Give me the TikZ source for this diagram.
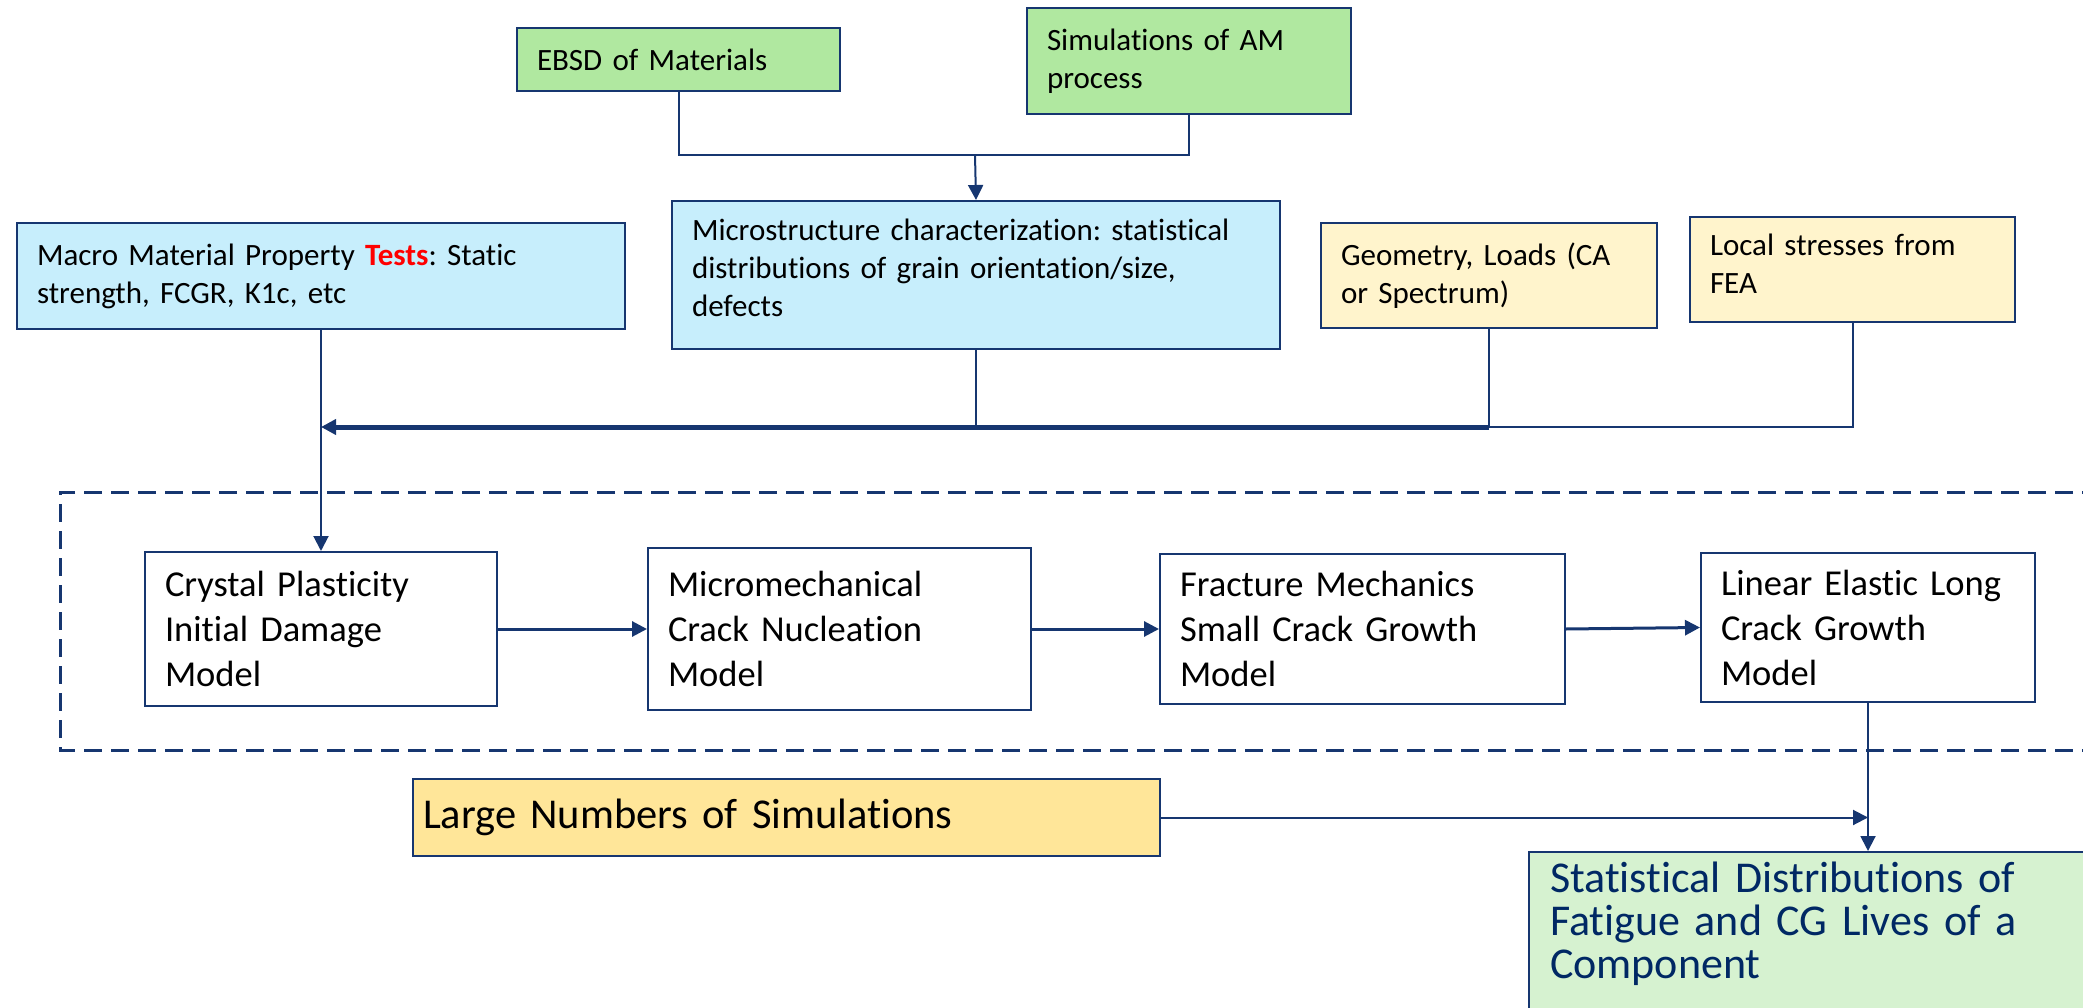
\documentclass[tikz,border=0pt]{standalone}
\usepackage{fontspec}
\setmainfont{Carlito}[Ligatures=NoCommon]
\usetikzlibrary{arrows.meta}
\definecolor{lineblue}{RGB}{22,54,112}
\definecolor{boxgreen}{RGB}{176,232,160}
\definecolor{boxblue}{RGB}{199,238,252}
\definecolor{boxcream}{RGB}{255,244,204}
\definecolor{boxgold}{RGB}{255,230,153}
\definecolor{boxmint}{RGB}{214,242,208}
\definecolor{statblue}{RGB}{0,40,100}
\definecolor{testred}{RGB}{255,0,0}
\frenchspacing

\begin{document}
\begin{tikzpicture}[x=1pt,y=-1pt,
  box/.style={draw=lineblue,line width=2pt,anchor=north west,inner xsep=20pt,inner ysep=0pt,align=left},
  upper/.style={box,font=\fontsize{31}{38}\selectfont},
  model/.style={box,fill=white,font=\fontsize{36.5}{45}\selectfont},
  conn/.style={draw=lineblue,line width=2pt},
  mid/.style={draw=lineblue,line width=3pt},
  bus/.style={draw=lineblue,line width=5pt},
  tip/.style={-{Triangle[length=15pt,width=15pt]}},
  dashframe/.style={draw=lineblue,line width=3pt,dash pattern=on 18pt off 9pt}]
\useasboundingbox (0,0) rectangle (2083,1008);

% inputs on top
\node[upper,fill=boxgreen,minimum width=323,text width=283,minimum height=63] (ebsd) at (516,27) {EBSD of Materials};
\node[upper,fill=boxgreen,minimum width=324,text width=284,minimum height=106] (simam) at (1026,7) {Simulations of AM\\process};
\node[upper,fill=boxblue,minimum width=608,text width=568,minimum height=106] (macro) at (16,222) {Macro Material Property \textcolor{testred}{\textbf{Tests}}: Static\\strength, FCGR, K1c, etc};
\node[upper,fill=boxblue,minimum width=608,text width=568,minimum height=148] (micro) at (671,200) {Microstructure characterization: statistical\\distributions of grain orientation/size,\\defects\rule[-14pt]{0pt}{0pt}};
\node[upper,fill=boxcream,minimum width=336,text width=296,minimum height=105] (geom) at (1320,222) {Geometry, Loads (CA\\or Spectrum)};
\node[upper,fill=boxcream,minimum width=325,text width=285,minimum height=105] (local) at (1689,216) {Local stresses from\\FEA\rule[-11pt]{0pt}{0pt}};

\coordinate (join) at (975,155);
\coordinate (busline) at (0,427);

\draw[conn] (ebsd.south) |- (join);
\draw[conn] (simam.south) |- (join);
\draw[conn,tip] (join) -- (micro.north);

% collecting line
\draw[conn] (local.south) |- (geom.south |- busline);
\draw[conn] (geom.south) -- (geom.south |- busline);
\draw[conn] (micro.south) -- (micro.south |- busline);
\draw[bus,tip] (geom.south |- busline) -- (macro.south |- busline);

% model chain
\draw[dashframe] (2100,492) -| (60,750) -- (2100,750);
\node[model,minimum width=352,text width=312,minimum height=154] (crystal) at (144,551) {Crystal Plasticity\\Initial Damage\\Model};
\node[model,minimum width=383,text width=343,minimum height=162] (nucl) at (647,547) {Micromechanical\\Crack Nucleation\\Model};
\node[model,minimum width=405,text width=365,minimum height=150] (small) at (1159,553) {Fracture Mechanics\\Small Crack Growth\\Model};
\node[model,minimum width=334,text width=294,minimum height=149] (long) at (1700,552) {Linear Elastic Long\\Crack Growth\\Model};

\draw[conn,tip] (macro.south) -- (crystal.north);
\draw[mid,tip] (crystal.east) -- (nucl.west);
\draw[mid,tip] (nucl.east) -- (small.west);
\draw[mid,tip] (small.east) -- (long.west);

% outputs
\node[box,fill=boxgold,inner xsep=10pt,minimum width=747,text width=727,minimum height=77,font=\fontsize{42.5}{50}\selectfont] (large) at (412,778) {Large Numbers of Simulations};
\node[box,fill=boxmint,inner xsep=21pt,inner ysep=10pt,text width=520,minimum width=562,text depth=150pt,text=statblue,font=\fontsize{44}{43}\selectfont] (stat) at (1528,851) {Statistical Distributions of\\Fatigue and CG Lives of a\\Component};

\draw[conn,tip] (large.east) -- (large.east -| long.south);
\draw[conn,tip] (long.south) -- (long.south |- stat.north);
\end{tikzpicture}
\end{document}
